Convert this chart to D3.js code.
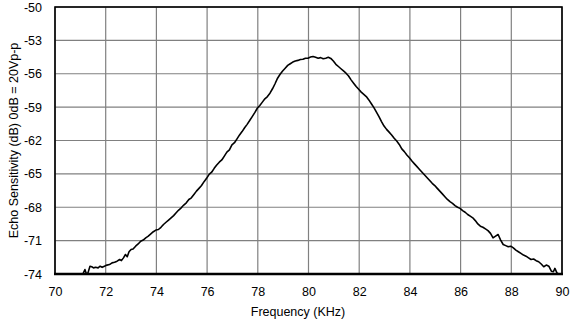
<!DOCTYPE html>
<html>
<head>
<meta charset="utf-8">
<script src="https://cdn.jsdelivr.net/npm/d3@7"></script>
<style>
  html, body { margin: 0; padding: 0; background: #fff; }
  svg { display: block; font-family: "Liberation Sans", Arial, sans-serif; }
</style>
</head>
<body>
<svg id="chart" width="576" height="323"></svg>
<script>
// Echo sensitivity response around the 80 kHz resonance
const freqKHz = [
  71.10, 71.18, 71.24, 71.30, 71.38, 71.45, 71.52, 71.60, 71.70, 71.78,
  71.86, 71.95, 72.05, 72.15, 72.25, 72.35, 72.45, 72.55, 72.62, 72.70,
  72.78, 72.85, 72.92, 73.00, 73.08, 73.18, 73.28, 73.38, 73.48, 73.58,
  73.68, 73.78, 73.88, 73.98, 74.08, 74.18, 74.28, 74.38, 74.48, 74.58,
  74.68, 74.78, 74.88, 74.98, 75.08, 75.18, 75.28, 75.38, 75.48, 75.58,
  75.68, 75.78, 75.88, 75.98, 76.08, 76.18, 76.28, 76.38, 76.48, 76.58,
  76.68, 76.78, 76.88, 76.98, 77.08, 77.18, 77.28, 77.38, 77.48, 77.58,
  77.68, 77.78, 77.88, 77.98, 78.08, 78.18, 78.28, 78.38, 78.48, 78.58,
  78.68, 78.78, 78.88, 78.98, 79.08, 79.18, 79.28, 79.38, 79.48, 79.58,
  79.68, 79.78, 79.88, 79.98, 80.08, 80.18, 80.28, 80.38, 80.48, 80.58,
  80.68, 80.78, 80.88, 80.98, 81.08, 81.18, 81.28, 81.38, 81.48, 81.58,
  81.68, 81.78, 81.88, 81.98, 82.08, 82.18, 82.28, 82.38, 82.48, 82.58,
  82.68, 82.78, 82.88, 82.98, 83.08, 83.18, 83.28, 83.38, 83.48, 83.58,
  83.68, 83.78, 83.88, 83.98, 84.08, 84.18, 84.28, 84.38, 84.48, 84.58,
  84.68, 84.78, 84.88, 84.98, 85.08, 85.18, 85.28, 85.38, 85.48, 85.58,
  85.68, 85.78, 85.88, 85.98, 86.08, 86.18, 86.28, 86.38, 86.48, 86.58,
  86.68, 86.78, 86.88, 86.98, 87.08, 87.18, 87.28, 87.38, 87.48, 87.58,
  87.68, 87.78, 87.88, 87.98, 88.08, 88.18, 88.28, 88.38, 88.48, 88.58,
  88.68, 88.78, 88.88, 88.98, 89.08, 89.18, 89.28, 89.38, 89.48, 89.58,
  89.66, 89.72, 89.80, 89.86
];
const sensitivityDb = [
  -74.1, -73.6, -74.0, -73.9, -73.3, -73.35, -73.45, -73.4, -73.45, -73.3,
  -73.4, -73.3, -73.2, -73.15, -73.0, -72.95, -72.85, -72.7, -72.8, -72.55,
  -72.25, -72.45, -72.0, -71.8, -71.75, -71.5, -71.3, -71.05, -70.95, -70.75,
  -70.6, -70.4, -70.2, -70.05, -70.0, -69.8, -69.55, -69.35, -69.15, -68.95,
  -68.75, -68.5, -68.25, -68.05, -67.8, -67.6, -67.3, -67.15, -66.85, -66.55,
  -66.3, -66.05, -65.7, -65.4, -65.05, -64.85, -64.5, -64.2, -63.95, -63.75,
  -63.4, -63.05, -62.85, -62.4, -62.2, -61.85, -61.5, -61.2, -60.85, -60.55,
  -60.2, -59.85, -59.5, -59.1, -58.85, -58.55, -58.25, -58.05, -57.75, -57.35,
  -56.9, -56.4, -56.05, -55.75, -55.5, -55.25, -55.1, -54.95, -54.85, -54.8,
  -54.72, -54.7, -54.6, -54.6, -54.5, -54.45, -54.52, -54.6, -54.55, -54.65,
  -54.6, -54.52, -54.62, -54.85, -55.15, -55.35, -55.55, -55.75, -55.95, -56.2,
  -56.55, -56.85, -57.15, -57.4, -57.65, -57.85, -58.05, -58.35, -58.7, -59.05,
  -59.45, -59.85, -60.3, -60.7, -61.0, -61.25, -61.5, -61.8, -62.05, -62.35,
  -62.75, -63.0, -63.3, -63.55, -63.85, -64.1, -64.35, -64.6, -64.85, -65.1,
  -65.35, -65.6, -65.85, -66.05, -66.3, -66.55, -66.8, -67.05, -67.3, -67.5,
  -67.65, -67.85, -68.0, -68.1, -68.3, -68.45, -68.65, -68.8, -68.95, -69.2,
  -69.5, -69.7, -69.8, -69.95, -70.1, -70.35, -70.75, -70.6, -70.45, -70.95,
  -71.35, -71.45, -71.55, -71.5, -71.65, -71.85, -72.0, -72.15, -72.3, -72.4,
  -72.55, -72.7, -72.65, -72.8, -72.9, -73.1, -73.35, -73.2, -73.3, -73.75,
  -73.8, -73.5, -73.9, -74.0
];
const xTicks = [70, 72, 74, 76, 78, 80, 82, 84, 86, 88, 90];
const yTicks = [-50, -53, -56, -59, -62, -65, -68, -71, -74];

const svg = d3.select("#chart");
const plotLeft = 55, plotRight = 562, plotTop = 7, plotBottom = 274;

const x = d3.scaleLinear().domain([70, 90]).range([plotLeft, plotRight]);
const y = d3.scaleLinear().domain([-74, -50]).range([plotBottom, plotTop]);

// grid
svg.append("g")
  .selectAll("line")
  .data(xTicks)
  .join("line")
  .attr("x1", d => x(d)).attr("x2", d => x(d))
  .attr("y1", plotTop).attr("y2", plotBottom)
  .attr("stroke", "#808080").attr("stroke-width", 1.2);
svg.append("g")
  .selectAll("line")
  .data(yTicks)
  .join("line")
  .attr("x1", plotLeft).attr("x2", plotRight)
  .attr("y1", d => y(d)).attr("y2", d => y(d))
  .attr("stroke", "#808080").attr("stroke-width", 1.2);

// axes (labels only; frame drawn separately); plain hyphen for negatives
const plain = d => String(d);
const xAxis = d3.axisBottom(x).tickValues(xTicks).tickFormat(plain).tickSize(0).tickPadding(13);
const gx = svg.append("g").attr("transform", `translate(0,${plotBottom})`).call(xAxis);
gx.select(".domain").remove();
gx.selectAll("text").attr("font-size", 12.5).attr("fill", "#000")
  .attr("font-family", "Liberation Sans, Arial, sans-serif");

const yAxis = d3.axisLeft(y).tickValues(yTicks).tickFormat(plain).tickSize(0).tickPadding(13);
const gy = svg.append("g").attr("transform", `translate(${plotLeft},0)`).call(yAxis);
gy.select(".domain").remove();
gy.selectAll("text").attr("font-size", 12.5).attr("fill", "#000")
  .attr("font-family", "Liberation Sans, Arial, sans-serif");

// plot frame
svg.append("rect")
  .attr("x", plotLeft).attr("y", plotTop)
  .attr("width", plotRight - plotLeft).attr("height", plotBottom - plotTop)
  .attr("fill", "none").attr("stroke", "#000").attr("stroke-width", 1.6);
svg.append("line")
  .attr("x1", plotLeft - 1).attr("x2", plotRight + 1)
  .attr("y1", plotBottom).attr("y2", plotBottom)
  .attr("stroke", "#000").attr("stroke-width", 2.6);

// response curve
const pts = freqKHz.map((f, i) => [f, sensitivityDb[i]]);
svg.append("path")
  .datum(pts)
  .attr("fill", "none")
  .attr("stroke", "#000")
  .attr("stroke-width", 1.6)
  .attr("stroke-linejoin", "round")
  .attr("d", d3.line().x(d => x(d[0])).y(d => y(Math.max(d[1], -74))));

// axis titles
svg.append("text")
  .attr("x", 298).attr("y", 316)
  .attr("text-anchor", "middle")
  .attr("font-size", 12.5)
  .text("Frequency (KHz)");
svg.append("text")
  .attr("transform", `translate(18,${(plotTop + plotBottom) / 2}) rotate(-90)`)
  .attr("text-anchor", "middle")
  .attr("font-size", 12.5)
  .text("Echo Sensitivity (dB) 0dB = 20Vp-p");
</script>
</body>
</html>
